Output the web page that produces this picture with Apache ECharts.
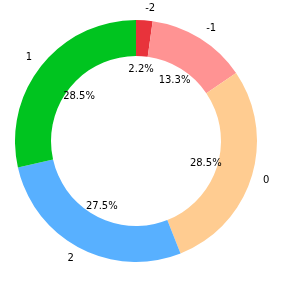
<!DOCTYPE html>
<html>
<head>
<meta charset="utf-8">
<script src="https://cdn.jsdelivr.net/npm/echarts@6/dist/echarts.min.js"></script>
<style>
html,body{margin:0;padding:0;background:#fff;}
#chart{width:281px;height:283px;}
</style>
</head>
<body>
<div id="chart"></div>
<script>
const categories = ['-2', '-1', '0', '2', '1'];
const shares = [2.2, 13.3, 28.5, 27.5, 28.5];
const colors = ['#e8333b', '#ff9393', '#ffcc91', '#58b0ff', '#00c41f'];

const chart = echarts.init(document.getElementById('chart'), null, {renderer: 'canvas'});
const textStyle = {fontFamily: 'DejaVu Sans', fontSize: 10, color: '#000'};

const ringData = categories.map((c, i) => ({name: c, value: shares[i], itemStyle: {color: colors[i]}}));
const pctData = categories.map((c, i) => ({name: c, value: shares[i]}));

chart.setOption({
  animation: false,
  series: [
    {
      type: 'pie',
      silent: true,
      center: [136, 141],
      radius: [85, 121],
      startAngle: 90,
      clockwise: true,
      avoidLabelOverlap: false,
      itemStyle: {borderWidth: 0},
      label: Object.assign({
        show: true,
        position: 'outside',
        distanceToLabelLine: 0,
        formatter: '{b}'
      }, textStyle),
      labelLine: {show: false, length: 12, length2: 0},
      emphasis: {disabled: true},
      data: ringData,
      z: 2
    },
    {
      type: 'pie',
      silent: true,
      center: [136, 142],
      radius: [0, 140],
      startAngle: 90,
      clockwise: true,
      avoidLabelOverlap: false,
      itemStyle: {color: 'rgba(0,0,0,0)', borderWidth: 0},
      label: Object.assign({
        show: true,
        position: 'inside',
        formatter: p => p.value.toFixed(1) + '%'
      }, textStyle),
      labelLine: {show: false},
      emphasis: {disabled: true},
      data: pctData,
      z: 5
    }
  ]
});
</script>
</body>
</html>
